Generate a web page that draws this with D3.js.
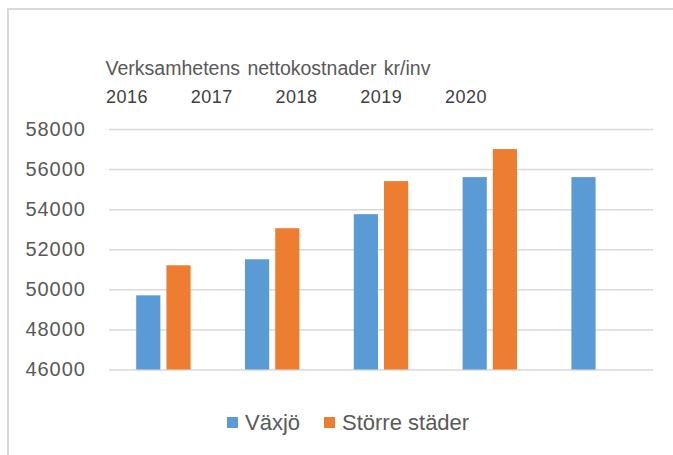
<!DOCTYPE html>
<html>
<head>
<meta charset="utf-8">
<script src="https://cdn.jsdelivr.net/npm/d3@7"></script>
<style>
  body { margin: 0; background: #fff; }
  text { font-family: "Liberation Sans", Arial, sans-serif; fill: #595959; }
</style>
</head>
<body>
<div id="chart"></div>
<script>
// data
let years = ["2016", "2017", "2018", "2019", "2020"];
let seriesNames = ["Växjö", "Större städer"];
let vaxjo = [49700, 51500, 53750, 55600, 55600];
let storre = [51200, 53050, 55400, 57000, null];
let yTicks = [46000, 48000, 50000, 52000, 54000, 56000, 58000];
let chartTitle = "Verksamhetens nettokostnader kr/inv";

let width = 673,
    height = 455;

const plot = {top: 129, bottom: 369.5, left: 109, right: 653};
const colors = ["#5b9bd5", "#ed7d31"];

let svg = d3.select("#chart")
    .append("svg")
    .attr("width", width)
    .attr("height", height);

// outer frame (runs off the picture right and bottom)
svg.append("rect")
    .attr("x", 8)
    .attr("y", 9)
    .attr("width", 700)
    .attr("height", 500)
    .attr("fill", "none")
    .attr("stroke", "#d9d9d9")
    .attr("stroke-width", 2);

let x0 = d3.scaleBand()
    .domain(years)
    .range([plot.left, plot.right])
    .paddingInner(0.5)
    .paddingOuter(0.25);

let x1 = d3.scaleBand()
    .domain(seriesNames)
    .range([0, x0.bandwidth()])
    .paddingInner(0.2);

let y = d3.scaleLinear()
    .domain([46000, 58000])
    .range([plot.bottom, plot.top]);

// header row of years
let xHead = d3.scalePoint()
    .domain(years)
    .range([127, 466]);

svg.append("text")
    .attr("x", 268)
    .attr("y", 68)
    .attr("dy", "0.35em")
    .style("text-anchor", "middle")
    .style("font-size", "19.5px")
    .style("word-spacing", "2px")
    .text(chartTitle);

svg.append("g").selectAll("text")
    .data(years)
    .enter()
    .append("text")
    .attr("x", d => xHead(d))
    .attr("y", 97)
    .attr("dy", "0.35em")
    .style("text-anchor", "middle")
    .style("font-size", "18px")
    .style("letter-spacing", "0.5px")
    .style("fill", "#404040")
    .text(d => d);

// gridlines + y labels
let yAxis = svg.append("g")
    .attr("transform", "translate(" + plot.left + ",0)")
    .call(d3.axisLeft(y)
        .tickValues(yTicks)
        .tickSize(-(plot.right - plot.left))
        .tickPadding(23)
        .tickFormat(d3.format("d")));
yAxis.select(".domain").remove();
yAxis.selectAll("line")
    .attr("stroke", "#d9d9d9")
    .attr("stroke-width", 1.5);
yAxis.selectAll("text")
    .attr("fill", "#595959")
    .style("font-family", "Liberation Sans, Arial, sans-serif")
    .style("font-size", "20px")
    .style("letter-spacing", "1px");

// bars
let rows = years.map((yr, i) => ({year: yr, values: [vaxjo[i], storre[i]]}));

let groups = svg.append("g").selectAll("g")
    .data(rows)
    .enter()
    .append("g")
    .attr("transform", d => "translate(" + x0(d.year) + ",0)");

groups.selectAll("rect")
    .data(d => d.values.map((v, k) => ({name: seriesNames[k], value: v, k: k}))
        .filter(e => e.value != null))
    .enter()
    .append("rect")
    .attr("x", d => x1(d.name))
    .attr("y", d => y(d.value))
    .attr("width", x1.bandwidth())
    .attr("height", d => y(46000) - y(d.value))
    .attr("fill", d => colors[d.k]);

// legend
let legendX = [227, 324];
let legend = svg.append("g").selectAll("g")
    .data(seriesNames)
    .enter()
    .append("g")
    .attr("transform", (d, i) => "translate(" + legendX[i] + ",417)");

legend.append("rect")
    .attr("width", 11)
    .attr("height", 11)
    .attr("fill", (d, i) => colors[i]);

legend.append("text")
    .attr("x", 18)
    .attr("y", 5.5)
    .attr("dy", "0.35em")
    .style("font-size", "22px")
    .text(d => d);
</script>
</body>
</html>
